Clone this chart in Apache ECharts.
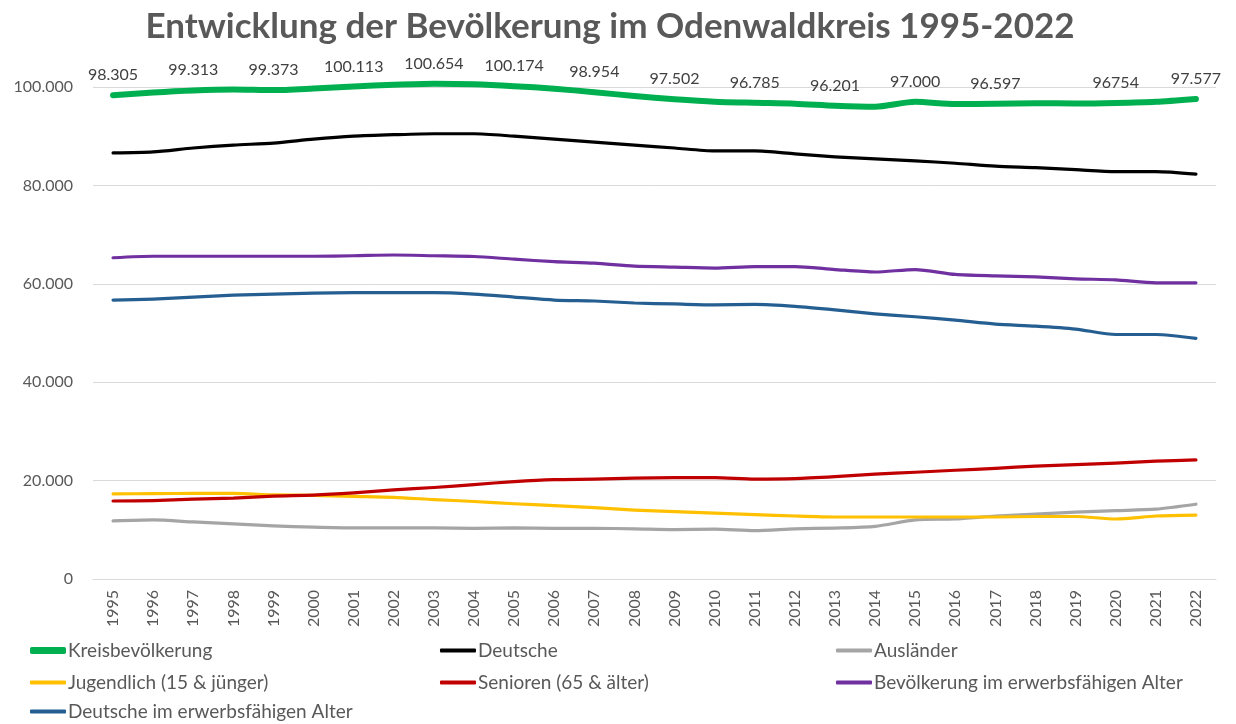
<!DOCTYPE html>
<html>
<head>
<meta charset="utf-8">
<script src="https://cdn.jsdelivr.net/npm/echarts@6/dist/echarts.min.js"></script>
<style>html,body{margin:0;padding:0;background:#fff;}#c{width:1236px;height:724px;}</style>
</head>
<body>
<div id="c"></div>
<script>
const years = ['1995','1996','1997','1998','1999','2000','2001','2002','2003','2004','2005','2006','2007','2008','2009','2010','2011','2012','2013','2014','2015','2016','2017','2018','2019','2020','2021','2022'];
const kreis = [98305,98900,99313,99500,99373,99700,100113,100450,100654,100550,100174,99650,98954,98150,97502,97000,96785,96600,96201,96000,97000,96540,96597,96700,96650,96754,97000,97577];
const kreisLabels = ['98.305','','99.313','','99.373','','100.113','','100.654','','100.174','','98.954','','97.502','','96.785','','96.201','','97.000','','96.597','','','96754','','97.577'];
const deutsche = [86600,86800,87600,88200,88600,89400,90000,90300,90500,90500,90000,89400,88800,88200,87600,87000,87000,86400,85800,85400,85000,84500,83900,83600,83200,82800,82800,82300];
const auslaender = [11800,12000,11600,11200,10800,10550,10400,10400,10400,10300,10400,10300,10300,10200,10050,10150,9850,10200,10350,10700,12000,12200,12800,13200,13600,13900,14200,15200];
const jugend = [17300,17350,17400,17400,17100,17000,16800,16600,16150,15750,15300,14900,14500,14000,13700,13400,13100,12800,12600,12600,12600,12600,12600,12700,12700,12200,12800,13000];
const senioren = [15850,15950,16250,16450,16850,17050,17500,18100,18600,19200,19800,20200,20300,20500,20600,20600,20300,20400,20800,21300,21700,22100,22500,22950,23250,23550,23950,24200];
const erwerb = [65300,65600,65600,65600,65600,65600,65700,65850,65700,65550,65000,64500,64200,63600,63400,63200,63500,63500,62900,62400,62900,61900,61600,61400,61000,60800,60200,60200];
const deutscheErwerb = [56700,56900,57300,57700,57900,58100,58200,58200,58200,57900,57300,56700,56500,56100,55900,55700,55800,55400,54700,53900,53300,52600,51800,51400,50800,49700,49700,48900];
const yTicks = [0,20000,40000,60000,80000,100000];

const FONT = 'Lato, "Open Sans", sans-serif';
const TXT = '#595959';

function fmt(v){ if(v===0) return '0'; return String(v).replace(/\B(?=(\d{3})+(?!\d))/g,'.'); }

function line(name, data, color, width){
  return {
    name, type:'line', data, smooth:0.25, clip:false,
    symbol:'circle', symbolSize:0.1, showSymbol:false,
    lineStyle:{color, width, cap:'round', join:'round'},
    itemStyle:{color},
    emphasis:{disabled:true}
  };
}

const series = [
  Object.assign(line('Kreisbevölkerung', kreis, '#00B050', 6), {
    showSymbol:true, z:10,
    label:{show:true, position:'top', distance:12, color:'#404040', fontFamily:FONT, fontSize:16,
      formatter:p=>kreisLabels[p.dataIndex]}
  }),
  line('Deutsche', deutsche, '#000000', 3.2),
  line('Ausländer', auslaender, '#A5A5A5', 3.2),
  line('Jugendlich (15 & jünger)', jugend, '#FFC000', 3.2),
  line('Senioren (65 & älter)', senioren, '#C00000', 3.2),
  line('Bevölkerung im erwerbsfähigen Alter', erwerb, '#7030A0', 3.2),
  line('Deutsche im erwerbsfähigen Alter', deutscheErwerb, '#255E91', 3.2)
];

function leg(name, left, top, h){
  return {orient:'horizontal', left, top, itemWidth:36, itemHeight:h, icon:'roundRect', data:[name],
    selectedMode:false, padding:0,
    textStyle:{color:TXT, fontFamily:FONT, fontSize:19, padding:[0,0,0,-3]}};
}

const chart = echarts.init(document.getElementById('c'), null, {renderer:'canvas'});
chart.setOption({
  animation:false,
  backgroundColor:'#fff',
  title:{text:'Entwicklung der Bevölkerung im Odenwaldkreis 1995-2022', left:605, textAlign:'center', top:4,
    textStyle:{color:TXT, fontFamily:FONT, fontWeight:'bold', fontSize:35}},
  grid:{left:93, right:20, top:87, bottom:145},
  xAxis:{type:'category', data:years, boundaryGap:true,
    axisLine:{show:true, lineStyle:{color:'#D9D9D9', width:1}}, axisTick:{show:false},
    axisLabel:{rotate:90, color:TXT, fontFamily:FONT, fontSize:16, margin:11, interval:0}},
  yAxis:{type:'value', min:0, max:100000, interval:20000,
    axisLine:{show:false}, axisTick:{show:false},
    splitLine:{lineStyle:{color:'#D9D9D9', width:1}},
    axisLabel:{color:TXT, fontFamily:FONT, fontSize:16, margin:20, formatter:v=>fmt(v)}},
  legend:[
    leg('Kreisbevölkerung', 30, 641, 7),
    leg('Jugendlich (15 & jünger)', 30, 673, 4),
    leg('Deutsche im erwerbsfähigen Alter', 30, 702, 4),
    leg('Deutsche', 440, 641, 4),
    leg('Senioren (65 & älter)', 440, 673, 4),
    leg('Ausländer', 836, 641, 4),
    leg('Bevölkerung im erwerbsfähigen Alter', 836, 673, 4)
  ],
  series
});
</script>
</body>
</html>
